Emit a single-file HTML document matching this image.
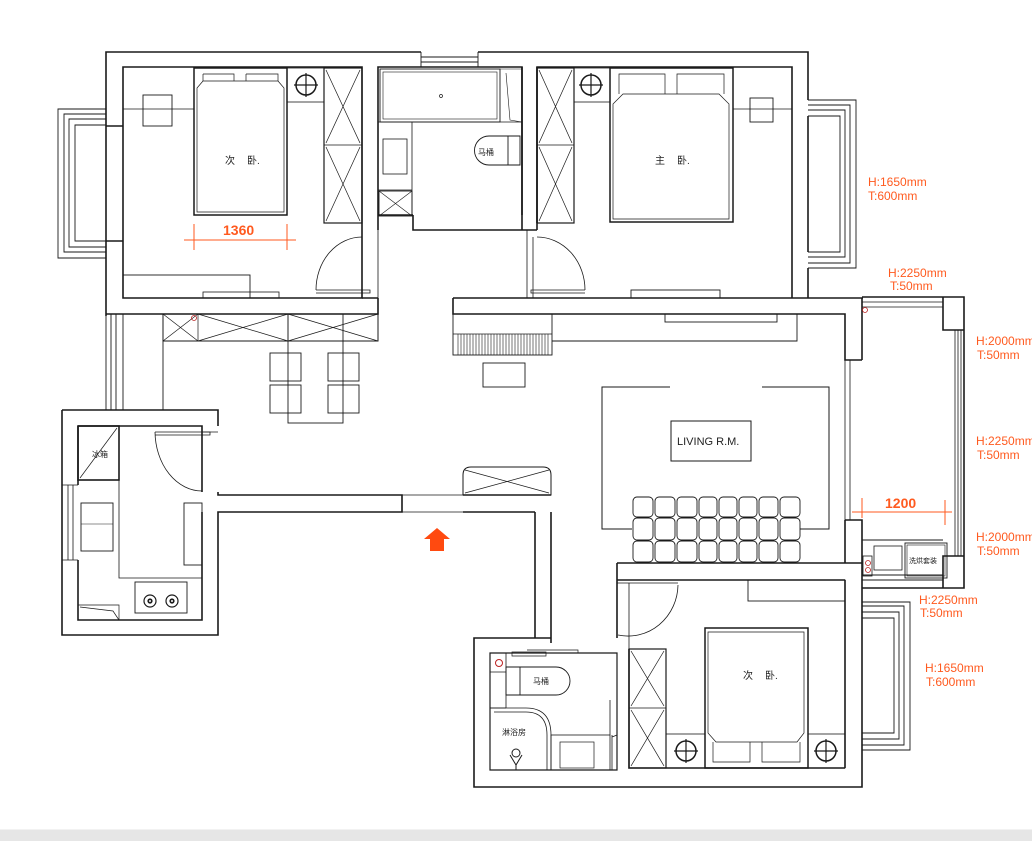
<!DOCTYPE html>
<html><head><meta charset="utf-8"><style>
html,body{margin:0;padding:0;background:#fff;}
svg{display:block;}
text{font-family:"Liberation Sans","Noto Sans CJK SC",sans-serif;}
.o{fill:#ff5a1f;font-size:12px;}
</style></head><body>
<svg width="1032" height="841" viewBox="0 0 1032 841" xmlns="http://www.w3.org/2000/svg">
<g fill="none" stroke="#1a1a1a" stroke-width="1.6">
<!-- outer top wall -->
<path d="M106 316 V52 H421 M478 52 H808 V100"/>
<path d="M123 241 V67 H362 V298 H123 Z" />
<path d="M378 230 V67 H522 V215"/>
<path d="M537 223 V67 H792 V298"/>
<path d="M808 116 V252 M808 268 V298"/>
<path d="M106 126 H123 M106 241 H123"/>
<path d="M106 314 H378 V298 M362 298 H378"/>
<path d="M362 223 V298 M378 230 V298" stroke-width="0.8"/>
<!-- top window -->
<path d="M421 52 V67 M478 52 V67 M421 57 H478 M421 62 H478" stroke-width="0.9"/>
<!-- left bay -->
<path d="M106 109 H58 V258 H106 M106 114 H64 V252 H106 M106 119 H69 V247 H106 M106 125 H75 V241 H106" stroke-width="0.9"/>
<!-- right bay -->
<path d="M808 100 H856 V268 H808 M808 105 H850 V263 H808 M808 110 H845 V257 H808 M808 116 H840 V252 H808" stroke-width="0.9"/>
<!-- bath walls -->
<path d="M378 215 H413 M413 215 V230 H522 M522 215 V230 M522 67 V230 M537 67 V230 M522 230 H537"/>
<path d="M453 298 H863 M453 298 V314 H845 V360 H862 M862 298 V360"/>
<path d="M527 230 V298 M533 237 V298" stroke-width="0.8"/>
<!-- balcony -->
<path d="M862 297 H964 V588 H862"/>
<path d="M943 297 V330 H964 M943 588 V556 H964"/>
<path d="M955 330 V556 M958 330 V556 M961 330 V556" stroke-width="0.8"/>
<path d="M862 302 H943 M862 307 H943" stroke-width="0.8"/>
<path d="M845 360 V520 M850 360 V520" stroke-width="0.8"/>
<path d="M845 520 H862 V563 M845 520 V563"/>
<!-- laundry -->
<path d="M862 540 H943 M862 580 H943 M862 575 H943" stroke-width="0.9"/>
<rect x="905" y="543" width="42" height="35" stroke-width="0.9"/>
<rect x="907" y="545" width="38" height="31" stroke-width="0.6"/>
<rect x="874" y="546" width="28" height="24" stroke-width="0.8"/>
<rect x="863" y="556" width="9" height="20" stroke-width="0.8"/>
<!-- left corridor, kitchen -->
<path d="M106 316 V410 M111 314 V410 M116 314 V410 M123 314 V410 M163 314 V410" stroke-width="0.9"/>
<path d="M62 410 H218 V426 M62 410 V635 H218 V512 H402 V495 H218 V492"/>
<path d="M78 426 H202 V492 M78 426 V485 M78 560 V620 H202 V512" />
<path d="M62 485 H78 M62 560 H78 M68 485 V560 M73 485 V560" stroke-width="0.8"/>
<path d="M202 432 H218 M202 426 V492" stroke-width="0.7"/>
<rect x="78" y="426" width="41" height="54"/>
<path d="M80 478 L117 428" stroke-width="0.7"/>
<rect x="81" y="503" width="32" height="48" stroke-width="0.9"/>
<path d="M81 524 H113" stroke-width="0.6"/>
<path d="M119 480 V578 H202" stroke-width="0.8"/>
<rect x="135" y="582" width="52" height="31" stroke-width="0.9"/>
<circle cx="150" cy="601" r="6" stroke-width="1.2"/><circle cx="150" cy="601" r="1.8"/>
<circle cx="172" cy="601" r="6" stroke-width="1.2"/><circle cx="172" cy="601" r="1.8"/>
<rect x="184" y="503" width="18" height="62" stroke-width="0.9"/>
<path d="M78 605 H119 V620 M80 607 L113 611 L119 620" stroke-width="0.7"/>
<path d="M155 432 A47 60 0 0 0 202 491 M155 432 H210 V435 H155" stroke-width="0.8"/>
<path d="M402 495 H463 M402 512 H463 M402 495 V512" stroke-width="0.8"/>
<!-- cabinets -->
<rect x="163" y="314" width="215" height="27" stroke-width="1"/>
<path d="M198 314 V341 M288 314 V341 M163 314 L198 341 M198 314 L163 341 M198 314 L288 341 M288 314 L198 341 M288 314 L378 341 M378 314 L288 341" stroke-width="0.7"/>
<!-- dining -->
<rect x="288" y="314" width="55" height="109" stroke-width="0.9"/>
<rect x="270" y="353" width="31" height="28" stroke-width="0.9"/>
<rect x="328" y="353" width="31" height="28" stroke-width="0.9"/>
<rect x="270" y="385" width="31" height="28" stroke-width="0.9"/>
<rect x="328" y="385" width="31" height="28" stroke-width="0.9"/>
<!-- bedroom 1 furniture -->
<rect x="194" y="68" width="93" height="147" stroke-width="1.5"/>
<path d="M197 88 L203 81 H278 L284 88 V212 H197 Z" stroke-width="0.7"/>
<path d="M203 74 H234 V81 M203 74 V81 M246 74 H278 V81 M246 81 V74" stroke-width="0.7"/>
<path d="M123 109 H194" stroke-width="0.8"/>
<rect x="143" y="95" width="29" height="31" stroke-width="0.9"/>
<rect x="287" y="68" width="37" height="34" stroke-width="0.8"/>
<circle cx="306" cy="85" r="10" stroke-width="1.5"/><path d="M306 73 V97 M294 85 H318" stroke-width="1.2"/>
<rect x="324" y="68" width="38" height="155" stroke-width="1.2"/>
<path d="M324 145 H362 M326 70 L360 143 M360 70 L326 143 M326 147 L360 221 M360 147 L326 221" stroke-width="0.7"/>
<rect x="123" y="275" width="127" height="23" stroke-width="0.9"/>
<rect x="203" y="292" width="76" height="6" stroke-width="0.8"/>
<path d="M316 290 A46 53 0 0 1 362 237 M316 290 H370 V293 H316" stroke-width="0.8"/>
<!-- bath 1 -->
<rect x="380" y="69" width="120" height="53" stroke-width="0.9"/>
<rect x="383" y="72" width="114" height="47" stroke-width="0.6"/>
<path d="M500 69 L522 69 L522 122 L510 120 L506 73" stroke-width="0.6"/>
<circle cx="441" cy="96" r="1.5" stroke-width="0.7"/>
<path d="M378 122 H522 M412 122 V215 M378 190 H412" stroke-width="0.8"/>
<rect x="383" y="139" width="24" height="35" stroke-width="0.8"/>
<rect x="379" y="191" width="33" height="25" stroke-width="0.9"/>
<path d="M379 191 L412 216 M412 191 L379 216" stroke-width="0.6"/>
<path d="M520 136 H489 A14 14 0 0 0 489 165 H520 Z M508 136 V165" stroke-width="0.9"/>
<!-- master -->
<rect x="537" y="68" width="37" height="155" stroke-width="1.2"/>
<path d="M537 145 H574 M539 70 L572 143 M572 70 L539 143 M539 147 L572 221 M572 147 L539 221" stroke-width="0.7"/>
<rect x="574" y="68" width="36" height="34" stroke-width="0.8"/>
<circle cx="591" cy="85" r="10" stroke-width="1.5"/><path d="M591 73 V97 M579 85 H603" stroke-width="1.2"/>
<rect x="610" y="68" width="123" height="154" stroke-width="1.5"/>
<path d="M613 104 L623 94 H719 L729 104 V219 H613 Z" stroke-width="0.7"/>
<path d="M619 94 V74 H665 V94 M677 94 V74 H724 V94" stroke-width="0.7"/>
<path d="M733 109 H792" stroke-width="0.8"/>
<rect x="750" y="98" width="23" height="24" stroke-width="0.9"/>
<rect x="631" y="290" width="89" height="8" stroke-width="0.9"/>
<path d="M585 290 A48 53 0 0 0 537 237 M585 290 H531 V293 H585" stroke-width="0.8"/>
<!-- living -->
<rect x="453" y="314" width="99" height="41" stroke-width="0.9"/>
<path d="M453 334 H552" stroke-width="0.8"/>
<path d="M458 334 V355 M461 334 V355 M464 334 V355 M467 334 V355 M470 334 V355 M473 334 V355 M476 334 V355 M479 334 V355 M482 334 V355 M485 334 V355 M488 334 V355 M491 334 V355 M494 334 V355 M497 334 V355 M500 334 V355 M503 334 V355 M506 334 V355 M509 334 V355 M512 334 V355 M515 334 V355 M518 334 V355 M521 334 V355 M524 334 V355 M527 334 V355 M530 334 V355 M533 334 V355 M536 334 V355 M539 334 V355 M542 334 V355 M545 334 V355 M548 334 V355" stroke-width="0.6"/>
<path d="M552 341 H797 V314" stroke-width="0.9"/>
<rect x="665" y="314" width="112" height="8" stroke-width="0.9"/>
<rect x="483" y="363" width="42" height="24" stroke-width="0.9"/>
<path d="M670 387 H602 V529 H632 M800 529 H829 V387 H762" stroke-width="1"/>
<rect x="671" y="421" width="80" height="40" stroke-width="1"/>
<!-- sofa -->
<g stroke-width="0.9">
<rect x="633" y="497" width="20" height="20" rx="4"/><rect x="655" y="497" width="20" height="20" rx="4"/><rect x="677" y="497" width="20" height="20" rx="4"/><rect x="699" y="497" width="18" height="20" rx="4"/><rect x="719" y="497" width="18" height="20" rx="4"/><rect x="739" y="497" width="18" height="20" rx="4"/><rect x="759" y="497" width="19" height="20" rx="4"/><rect x="780" y="497" width="20" height="20" rx="4"/>
<rect x="633" y="518" width="20" height="22" rx="4"/><rect x="655" y="518" width="20" height="22" rx="4"/><rect x="677" y="518" width="20" height="22" rx="4"/><rect x="699" y="518" width="18" height="22" rx="4"/><rect x="719" y="518" width="18" height="22" rx="4"/><rect x="739" y="518" width="18" height="22" rx="4"/><rect x="759" y="518" width="19" height="22" rx="4"/><rect x="780" y="518" width="20" height="22" rx="4"/>
<rect x="633" y="541" width="20" height="21" rx="4"/><rect x="655" y="541" width="20" height="21" rx="4"/><rect x="677" y="541" width="20" height="21" rx="4"/><rect x="699" y="541" width="18" height="21" rx="4"/><rect x="719" y="541" width="18" height="21" rx="4"/><rect x="739" y="541" width="18" height="21" rx="4"/><rect x="759" y="541" width="19" height="21" rx="4"/><rect x="780" y="541" width="20" height="21" rx="4"/>
</g>
<!-- X cabinet near entrance -->
<path d="M463 495 V475 Q463 467 471 467 H543 Q551 467 551 475 V495 Z" stroke-width="1"/>
<path d="M463 495 H551 M465 493 L549 470 M465 470 L549 493" stroke-width="0.7"/>
<path d="M535 512 V638 M551 512 V643 M463 495 H551 M463 512 H535" />
<!-- lower bedroom -->
<path d="M617 563 H862 M617 563 V580 H845 M617 580 V638"/>
<rect x="748" y="580" width="97" height="21" stroke-width="0.9"/>
<path d="M845 580 V768 M862 563 V787 H474 V638 H551 M845 768 H629 V649"/>
<path d="M629 583 V649 M617 583 H678" stroke-width="0.8"/>
<path d="M678 585 A50 52 0 0 1 618 635" stroke-width="0.8"/>
<path d="M862 602 H910 V750 H862 M862 606 H904 V745 H862 M862 612 H899 V739 H862 M862 618 H894 V733 H862" stroke-width="0.9"/>
<rect x="629" y="649" width="37" height="119" stroke-width="1.2"/>
<path d="M629 708 H666 M631 651 L664 706 M664 651 L631 706 M631 710 L664 766 M664 710 L631 766" stroke-width="0.7"/>
<rect x="666" y="734" width="39" height="34" stroke-width="0.8"/>
<circle cx="686" cy="751" r="10" stroke-width="1.5"/><path d="M686 739 V763 M674 751 H698" stroke-width="1.2"/>
<rect x="808" y="734" width="37" height="34" stroke-width="0.8"/>
<circle cx="826" cy="751" r="10" stroke-width="1.5"/><path d="M826 739 V763 M814 751 H838" stroke-width="1.2"/>
<rect x="705" y="628" width="103" height="140" stroke-width="1.5"/>
<path d="M708 632 H804 V733 L797 742 H716 L708 733 Z" stroke-width="0.7"/>
<path d="M713 742 V762 H750 V742 M762 742 V762 H800 V742" stroke-width="0.7"/>
<!-- lower bath -->
<path d="M490 653 H617 V770 H490 Z" stroke-width="1.2"/>
<path d="M512 652 H546 V656 H512 Z M527 650 H578 V653" stroke-width="0.7"/>
<path d="M490 672 H506 M490 708 H506 M506 653 V708" stroke-width="0.8"/>
<path d="M556 667 H506 V695 H556 A14 14 0 0 0 556 667 Z M520 667 V695" stroke-width="0.9"/>
<path d="M490 708 H526 Q551 708 551 735 V770 M494 712 H526 Q547 712 547 735 V770" stroke-width="0.8"/>
<rect x="551" y="735" width="59" height="35" stroke-width="0.8"/>
<rect x="560" y="742" width="34" height="26" stroke-width="0.7"/>
<path d="M610 700 V735 M612 735 V770 M612 737 L617 735" stroke-width="0.8"/>
<path d="M510 755 L516 765 L522 755 M516 765 V770 M511 770 H521" stroke-width="1"/>
<circle cx="516" cy="753" r="4" stroke-width="1"/>
</g>
<circle cx="499" cy="663" r="3.5" fill="none" stroke="#b22" stroke-width="1"/>
<circle cx="194" cy="318" r="2.5" fill="none" stroke="#b22" stroke-width="0.8"/>
<circle cx="865" cy="310" r="2.5" fill="none" stroke="#b22" stroke-width="0.8"/>
<circle cx="868" cy="563" r="2.5" fill="none" stroke="#b22" stroke-width="0.8"/>
<circle cx="868" cy="570" r="2.5" fill="none" stroke="#b22" stroke-width="0.8"/>
<!-- dims -->
<g stroke="#ff5a1f" stroke-width="1" fill="none">
<path d="M184 240 H296 M194 224 V250 M287 224 V250"/>
<path d="M852 512 H952 M862 498 V518 M945 500 V525"/>
</g>
<text x="223" y="235" class="o" style="font-size:14px;font-weight:bold">1360</text>
<text x="885" y="508" class="o" style="font-size:14px;font-weight:bold">1200</text>
<path d="M437 528 L450 539 H444 V551 H430 V539 H424 Z" fill="#ff4a10"/>
<text x="868" y="186" class="o">H:1650mm</text><text x="868" y="200" class="o">T:600mm</text>
<text x="888" y="277" class="o">H:2250mm</text><text x="890" y="290" class="o">T:50mm</text>
<text x="976" y="345" class="o">H:2000mm</text><text x="977" y="359" class="o">T:50mm</text>
<text x="976" y="445" class="o">H:2250mm</text><text x="977" y="459" class="o">T:50mm</text>
<text x="976" y="541" class="o">H:2000mm</text><text x="977" y="555" class="o">T:50mm</text>
<text x="919" y="604" class="o">H:2250mm</text><text x="920" y="617" class="o">T:50mm</text>
<text x="925" y="672" class="o">H:1650mm</text><text x="926" y="686" class="o">T:600mm</text>
<g fill="#222" font-size="10">
<text x="225" y="164">次</text><text x="247" y="164">卧.</text>
<text x="655" y="164">主</text><text x="677" y="164">卧.</text>
<text x="743" y="679">次</text><text x="765" y="679">卧.</text>
<text x="677" y="445" font-size="11">LIVING  R.M.</text>
<text x="478" y="155" font-size="8">马桶</text>
<text x="533" y="684" font-size="8">马桶</text>
<text x="502" y="735" font-size="8">淋浴房</text>
<text x="92" y="457" font-size="8">冰箱</text>
<text x="909" y="563" font-size="7">洗烘套装</text>
</g>
<rect x="0" y="830" width="1032" height="11" fill="#e6e6e6"/>
<rect x="0" y="829" width="1032" height="1" fill="#f2f2f2"/>
</svg>
</body></html>
